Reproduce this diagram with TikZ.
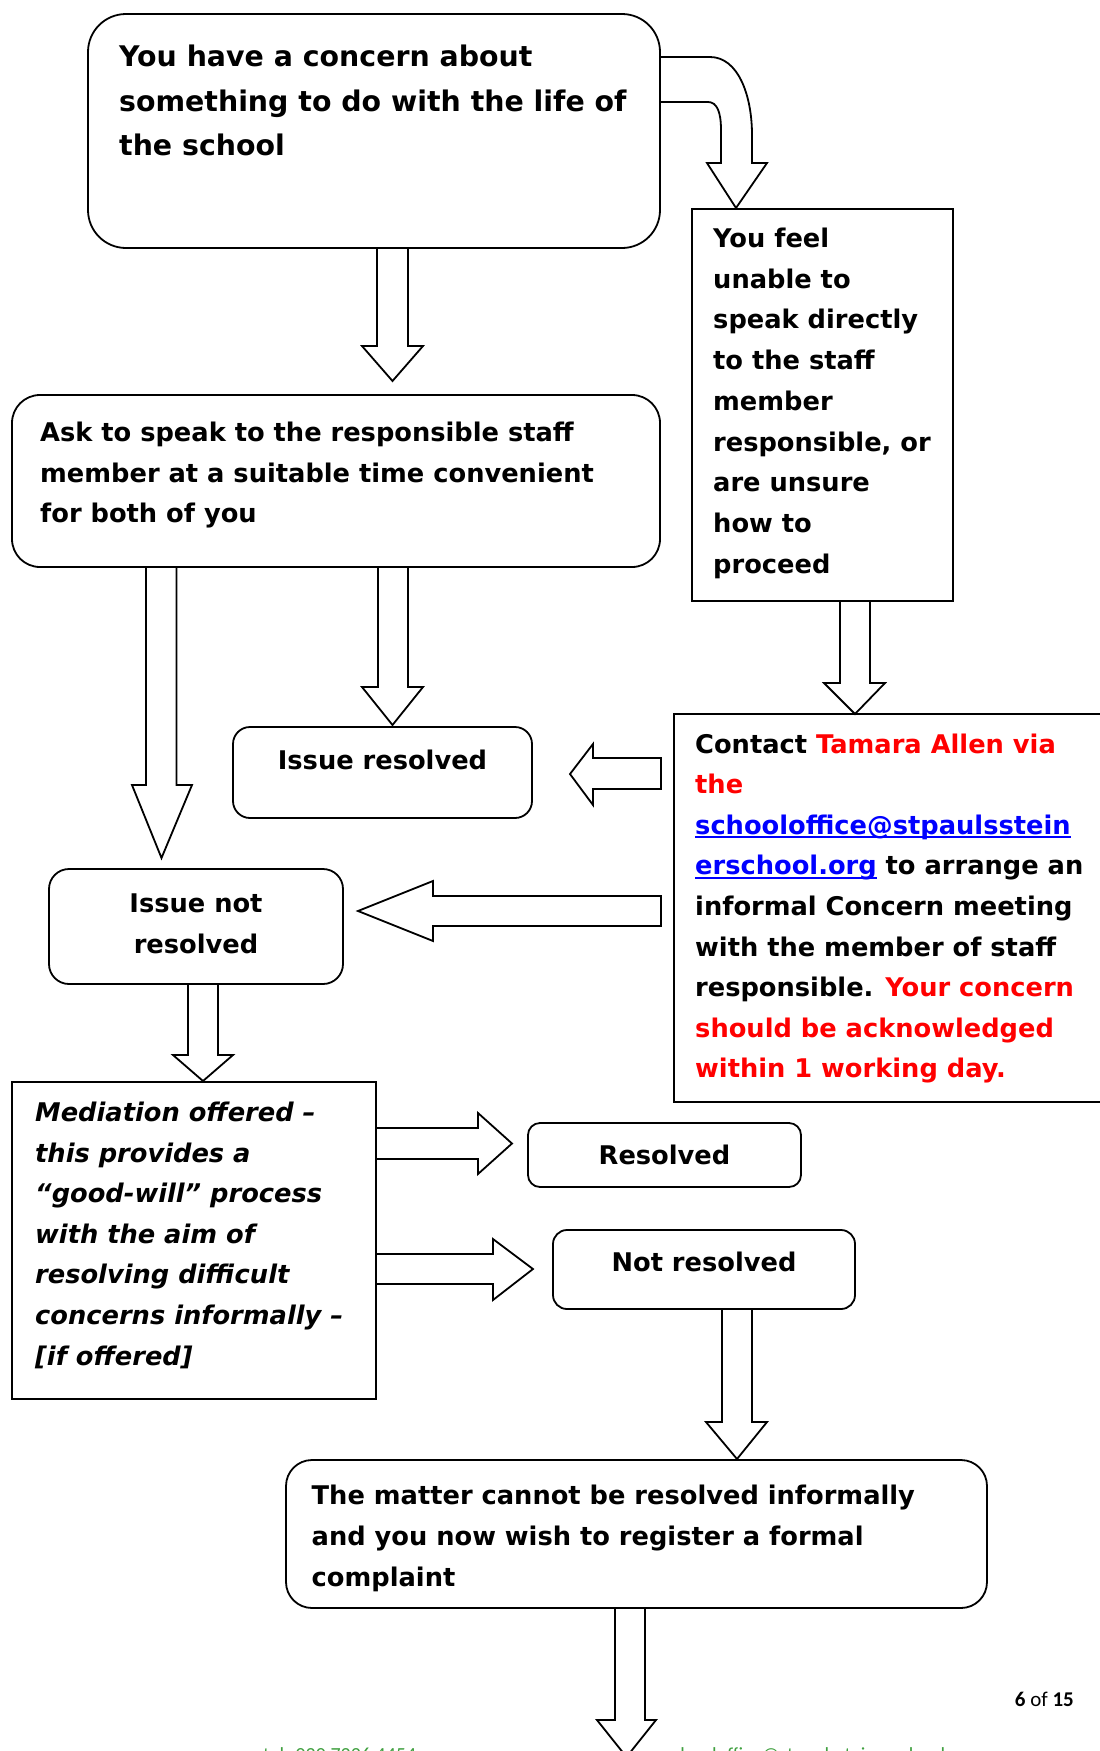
\documentclass[tikz,border=0pt]{standalone}
\usepackage{fontspec}
\setmainfont{DejaVu Sans}
\newfontfamily\footfont{Carlito}
\definecolor{linkblue}{RGB}{0,0,255}
\definecolor{redtxt}{RGB}{255,0,0}
\definecolor{footgreen}{RGB}{64,160,64}
\newcommand\mlines[2]{\vtop{\baselineskip=#1pt\lineskiplimit=-1000pt\lineskip=0pt\halign{##\hfil\cr#2\crcr}}}
\newcommand\mclines[2]{\vtop{\baselineskip=#1pt\lineskiplimit=-1000pt\lineskip=0pt\halign{\hfil##\hfil\cr#2\crcr}}}
\newcommand\ulink[1]{\setbox0=\hbox{\textcolor{linkblue}{#1}}\rlap{\textcolor{linkblue}{\rule[-4pt]{\wd0}{2pt}}}\box0\relax}
\newcommand\rd[1]{\textcolor{redtxt}{#1}}
\begin{document}
\begin{tikzpicture}[x=1pt,y=-1pt,
  box/.style={draw, line width=1.8pt, inner sep=0pt, outer sep=0pt},
  rbox/.style={box, rounded corners=#1},
  blk/.style={draw, line width=1.8pt, line join=miter},
  txt/.style={inner sep=0pt, anchor=base west, font=\bfseries\fontsize{25.7}{40.7}\selectfont},
  ctxt/.style={txt, anchor=base}]
\useasboundingbox (0,0) rectangle (1100,1751);
\clip (0,0) rectangle (1100,1751);

% boxes
\node[rbox=38pt, minimum width=572pt, minimum height=234pt] (A) at (374,131) {};
\node[box, minimum width=261pt, minimum height=392pt] (B) at (822.5,405) {};
\node[rbox=28pt, minimum width=648pt, minimum height=172pt] (C) at (336,481) {};
\node[rbox=17pt, minimum width=299pt, minimum height=91pt] (D) at (382.5,772.5) {};
\node[rbox=20pt, minimum width=294pt, minimum height=115pt] (E) at (196,926.5) {};
\node[box, minimum width=441pt, minimum height=388pt] (F) at (894.5,908) {};
\node[box, minimum width=364pt, minimum height=317pt] (G) at (194,1240.5) {};
\node[rbox=12pt, minimum width=273pt, minimum height=64pt] (H) at (664.5,1155) {};
\node[rbox=14pt, minimum width=302pt, minimum height=79pt] (I) at (704,1269.5) {};
\node[rbox=26pt, minimum width=701pt, minimum height=148pt] (J) at (636.5,1534) {};

% texts
\node[txt, font=\bfseries\fontsize{28.4}{44.5}\selectfont] (At) at (119,66.5)
  {\mlines{44.5}{You have a concern about\cr something to do with the life of\cr the school}};
\node[txt] (Bt) at (713,247.5)
  {\mlines{40.7}{You feel\cr unable to\cr speak directly\cr to the staff\cr member\cr responsible, or\cr are unsure\cr how to\cr proceed}};
\node[txt] (Ct) at (40,441.5)
  {\mlines{40.5}{Ask to speak to the responsible staff\cr member at a suitable time convenient\cr for both of you}};
\node[ctxt] (Dt) at (382.5,769) {Issue resolved};
\node[ctxt] (Et) at (196,912.5) {\mclines{40.5}{Issue not\cr resolved}};
\node[txt] (Ft) at (695,753)
  {\mlines{40.6}{Contact \rd{Tamara Allen via}\cr
   \rd{the}\cr
   \ulink{schooloffice@stpaulsstein}\cr
   \ulink{erschool.org} to arrange an\cr
   informal Concern meeting\cr
   with the member of staff\cr
   responsible. \rd{Your concern}\cr
   \rd{should be acknowledged}\cr
   \rd{within 1 working day.}}};
\node[txt, font=\bfseries\itshape\fontsize{25.7}{40.7}\selectfont] (Gt) at (35,1121.7)
  {\mlines{40.55}{Mediation offered –\cr this provides a\cr “good-will” process\cr with the aim of\cr resolving difficult\cr concerns informally –\cr [if offered]}};
\node[ctxt] (Ht) at (664.5,1164) {Resolved};
\node[ctxt] (It) at (704,1271) {Not resolved};
\node[txt] (Jt) at (311.5,1504)
  {\mlines{41}{The matter cannot be resolved informally\cr and you now wish to register a formal\cr complaint}};

% block arrows
% A -> C
\draw[blk] (377,248) -- (377,346) -- (362,346) -- (392.5,381) -- (423,346) -- (408,346) -- (408,248);
% A -> B curved
\draw[blk] (660,57) -- (710,57) .. controls (738,57) and (752,95) .. (752,135) -- (752,163)
  -- (767,163) -- (736,208) -- (707,163) -- (721,163) -- (721,130)
  .. controls (721,112) and (717,102) .. (708,102) -- (660,102);
% C -> E (long)
\draw[blk] (146,567) -- (146,785) -- (132,785) -- (161.5,858) -- (192,785) -- (176.5,785) -- (176.5,567);
% C -> D
\draw[blk] (378,567) -- (378,687) -- (362,687) -- (392.5,725) -- (423,687) -- (408,687) -- (408,567);
% B -> F
\draw[blk] (840,601) -- (840,683) -- (824,683) -- (855,714) -- (885,683) -- (870,683) -- (870,601);
% F -> D
\draw[blk] (661,758) -- (593,758) -- (593,744) -- (570,774) -- (593,805) -- (593,789) -- (661,789) -- cycle;
% F -> E
\draw[blk] (661,896) -- (433,896) -- (433,881) -- (358,911) -- (433,941) -- (433,926) -- (661,926) -- cycle;
% E -> G
\draw[blk] (188,984) -- (188,1055) -- (173,1055) -- (203,1081) -- (233,1055) -- (218,1055) -- (218,984);
% G -> H
\draw[blk] (376,1128) -- (478,1128) -- (478,1113) -- (512,1143.5) -- (478,1174) -- (478,1159) -- (376,1159);
% G -> I
\draw[blk] (376,1254) -- (493,1254) -- (493,1239) -- (533,1269) -- (493,1300) -- (493,1284) -- (376,1284);
% I -> J
\draw[blk] (722,1309) -- (722,1422) -- (706,1422) -- (737,1459) -- (767,1422) -- (752,1422) -- (752,1309);
% J -> next
\coordinate (Jout) at (626.5,1757);
\draw[blk] (615,1608) -- (615,1720) -- (597,1720) -- (Jout) -- (656,1720) -- (645,1720) -- (645,1608);

% footer
\node[inner sep=0pt, anchor=base east, font=\footfont\fontsize{21}{21}\selectfont] (pg) at (1074,1706)
  {\textbf{6} of \textbf{15}};
\node[inner sep=0pt, anchor=base west, text=footgreen, font=\footfont\fontsize{20}{20}\selectfont] (ft1) at (263,1761)
  {tel: 020 7226 4454};
\node[inner sep=0pt, anchor=base west, text=footgreen, font=\footfont\fontsize{20}{20}\selectfont] (ft2) at (664,1761)
  {schooloffice@stpaulssteinerschool.org};
\end{tikzpicture}
\end{document}
